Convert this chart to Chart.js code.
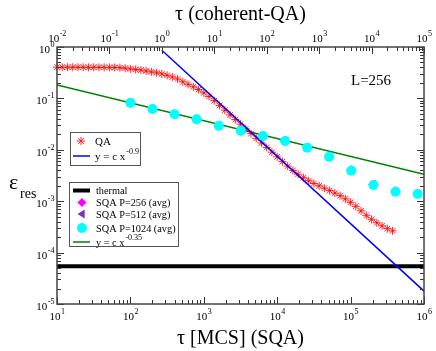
<!DOCTYPE html>
<html><head><meta charset="utf-8">
<script src="https://cdn.jsdelivr.net/npm/chart.js@4/dist/chart.umd.min.js"></script>
<style>html,body{margin:0;padding:0;background:#fff}canvas{display:block}</style>
</head><body>
<canvas id="c" width="436" height="351"></canvas>
<script>
// ---------- data ----------
const qaTau = [
 0.01,0.01259,0.01585,0.01995,0.02512,0.03162,0.03981,0.05012,0.0631,0.07943,
 0.1,0.1259,0.1585,0.1995,0.2512,0.3162,0.3981,0.5012,0.631,0.7943,
 1,1.259,1.585,1.995,2.512,3.162,3.981,5.012,6.31,7.943,
 10,12.59,15.85,19.95,25.12,31.62,39.81,50.12,63.1,79.43,
 100,125.9,158.5,199.5,251.2,316.2,398.1,501.2,631,794.3,
 1000,1259,1585,1995,2512,3162,3981,5012,6310,7943,
 10000,12590,15850,19950,25120];
const qaEps = [
 0.405,0.404,0.404,0.403,0.403,0.403,0.402,0.402,0.402,0.401,
 0.401,0.400,0.396,0.386,0.375,0.365,0.356,0.342,0.328,0.315,
 0.300,0.281,0.261,0.239,0.210,0.188,0.168,0.149,0.128,0.109,
 0.0901,0.0730,0.0591,0.0477,0.0387,0.0315,0.0255,0.0206,0.0167,0.0136,
 0.0111,0.00899,0.00728,0.00587,0.00481,0.00398,0.00336,0.00287,0.00250,0.00221,
 0.00199,0.00179,0.00161,0.00144,0.00128,0.00111,0.000951,0.000795,0.000650,0.000531,
 0.000444,0.000380,0.000332,0.000293,0.000265];

const sqaTau = [100,200,400,800,1600,3200,6400,12800,25600,51200,102400,204800,409600,819200];
const sqaEps1024 = [0.0824,0.0622,0.0491,0.0392,0.0294,0.0235,0.0186,0.0148,0.0110,0.00734,0.00392,0.00207,0.00153,0.00138];
const sqaEps512  = [0.0824,0.0622,0.0491,0.0392,0.0294,0.0235,0.0186,0.0148,0.0110,0.00734,0.00395,0.00212,0.00155,0.00139];
const sqaEps256  = [0.0824,0.0622,0.0491,0.0392,0.0294,0.0235,0.0186,0.0148,0.0111,0.00740,0.00402,0.00210,0.00156,0.00139];

const fit09Tau = [1, 100000];          // vs. coherent-QA tau (top axis)
const fit09Eps = [0.867, 0.0000178];
const fit035Tau = [10, 1000000];       // vs. SQA tau (bottom axis)
const fit035Eps = [0.183, 0.00333];
const thermalTau = [10, 1000000];
const thermalEps = [0.0000542, 0.0000542];

const bottomExps = [1,2,3,4,5,6];
const topExps = [-2,-1,0,1,2,3,4,5];
const leftExps = [-5,-4,-3,-2,-1,0];

// ---------- helpers ----------
const pts = (xs, ys) => xs.map((x, i) => ({x, y: ys[i]}));
const SERIF = '"Liberation Serif","Times New Roman",serif';

function drawPow(ctx, x, y, exp, align) {
  ctx.font = '11px ' + SERIF;
  const w1 = ctx.measureText('10').width;
  ctx.font = '8px ' + SERIF;
  const w2 = ctx.measureText(String(exp)).width;
  const x0 = align === 'center' ? x - (w1 + w2) / 2 : x - (w1 + w2);
  ctx.textAlign = 'left'; ctx.textBaseline = 'alphabetic'; ctx.fillStyle = '#000';
  ctx.font = '11px ' + SERIF; ctx.fillText('10', x0, y);
  ctx.font = '8px ' + SERIF; ctx.fillText(String(exp), x0 + w1 + 0.5, y - 6);
}

function marker(ctx, style, x, y, r, color) {
  ctx.save();
  ctx.strokeStyle = color; ctx.fillStyle = color; ctx.lineWidth = 1;
  ctx.beginPath();
  if (style === 'star') {
    for (let k = 0; k < 4; k++) {
      const a = k * Math.PI / 4;
      ctx.moveTo(x - r * Math.cos(a), y - r * Math.sin(a));
      ctx.lineTo(x + r * Math.cos(a), y + r * Math.sin(a));
    }
    ctx.stroke();
  } else if (style === 'diamond') {
    ctx.moveTo(x, y - r); ctx.lineTo(x + r, y); ctx.lineTo(x, y + r); ctx.lineTo(x - r, y); ctx.closePath(); ctx.fill();
  } else if (style === 'triLeft') {
    ctx.moveTo(x - r, y); ctx.lineTo(x + r * 0.6, y - r); ctx.lineTo(x + r * 0.6, y + r); ctx.closePath(); ctx.fill();
  } else {
    ctx.arc(x, y, r, 0, Math.PI * 2); ctx.fill();
  }
  ctx.restore();
}

function hline(ctx, x1, x2, y, color, w) {
  ctx.save(); ctx.strokeStyle = color; ctx.lineWidth = w;
  ctx.beginPath(); ctx.moveTo(x1, y); ctx.lineTo(x2, y); ctx.stroke(); ctx.restore();
}

function textSup(ctx, x, y, base, sup, size) {
  ctx.fillStyle = '#000'; ctx.textAlign = 'left'; ctx.textBaseline = 'alphabetic';
  ctx.font = size + 'px ' + SERIF; ctx.fillText(base, x, y);
  const w = ctx.measureText(base).width;
  ctx.font = '8px ' + SERIF; ctx.fillText(sup, x + w + 1, y - 6);
}

const decorPlugin = {
  id: 'decor',
  afterDraw(chart) {
    const ctx = chart.ctx, a = chart.chartArea;
    const sx = chart.scales.x, st = chart.scales.xt, sy = chart.scales.y;
    ctx.save();
    // ticks
    ctx.strokeStyle = '#333'; ctx.lineWidth = 1;
    ctx.beginPath();
    const minors = [2,3,4,5,6,7,8,9];
    bottomExps.forEach((e, i) => {
      const v = Math.pow(10, e);
      const px = Math.round(sx.getPixelForValue(v)) + 0.5;
      ctx.moveTo(px, a.bottom); ctx.lineTo(px, a.bottom - 7);
      if (i < bottomExps.length - 1) minors.forEach(m => {
        const p = Math.round(sx.getPixelForValue(m * v)) + 0.5;
        ctx.moveTo(p, a.bottom); ctx.lineTo(p, a.bottom - 4);
      });
    });
    topExps.forEach((e, i) => {
      const v = Math.pow(10, e);
      const px = Math.round(st.getPixelForValue(v)) + 0.5;
      ctx.moveTo(px, a.top); ctx.lineTo(px, a.top + 7);
      if (i < topExps.length - 1) minors.forEach(m => {
        const p = Math.round(st.getPixelForValue(m * v)) + 0.5;
        ctx.moveTo(p, a.top); ctx.lineTo(p, a.top + 4);
      });
    });
    leftExps.forEach((e, i) => {
      const v = Math.pow(10, e);
      const py = Math.round(sy.getPixelForValue(v)) + 0.5;
      ctx.moveTo(a.left, py); ctx.lineTo(a.left + 7, py);
      ctx.moveTo(a.right, py); ctx.lineTo(a.right - 7, py);
      if (i < leftExps.length - 1) minors.forEach(m => {
        const p = Math.round(sy.getPixelForValue(m * v)) + 0.5;
        ctx.moveTo(a.left, p); ctx.lineTo(a.left + 4, p);
        ctx.moveTo(a.right, p); ctx.lineTo(a.right - 4, p);
      });
    });
    ctx.stroke();
    // frame
    ctx.strokeStyle = '#444'; ctx.lineWidth = 1.5;
    ctx.strokeRect(a.left, a.top, a.right - a.left, a.bottom - a.top);

    // tick labels
    bottomExps.forEach(e => drawPow(ctx, sx.getPixelForValue(Math.pow(10, e)), a.bottom + 16, e, 'center'));
    topExps.forEach(e => drawPow(ctx, st.getPixelForValue(Math.pow(10, e)), a.top - 5, e, 'center'));
    leftExps.forEach(e => drawPow(ctx, a.left - 3, sy.getPixelForValue(Math.pow(10, e)) + 6, e, 'right'));

    // axis titles
    ctx.fillStyle = '#000'; ctx.textAlign = 'center'; ctx.textBaseline = 'alphabetic';
    ctx.font = '20px ' + SERIF;
    ctx.fillText('τ (coherent-QA)', (a.left + a.right) / 2, 20);
    ctx.fillText('τ [MCS] (SQA)', (a.left + a.right) / 2, 344);
    ctx.textAlign = 'left';
    ctx.font = '22px ' + SERIF; ctx.fillText('ε', 9, 189);
    ctx.font = '14px ' + SERIF; ctx.fillText('res', 20, 198);

    // L=256
    ctx.font = '15px ' + SERIF; ctx.fillText('L=256', 351, 85);

    // legend 1
    ctx.fillStyle = '#fff'; ctx.strokeStyle = '#555'; ctx.lineWidth = 1;
    ctx.fillRect(70.5, 132.5, 70, 33); ctx.strokeRect(70.5, 132.5, 70, 33);
    marker(ctx, 'star', 81, 141, 4, '#ff2020');
    ctx.fillStyle = '#000'; ctx.font = '11px ' + SERIF; ctx.fillText('QA', 95, 145);
    hline(ctx, 73, 90, 156, '#0000ff', 1.5);
    textSup(ctx, 95, 160, 'y = c x', '-0.9', 11);

    // legend 2
    const LF = '10.3px ' + SERIF;
    ctx.fillStyle = '#fff'; ctx.strokeStyle = '#555'; ctx.lineWidth = 1;
    ctx.fillRect(69.5, 182.5, 109, 64); ctx.strokeRect(69.5, 182.5, 109, 64);
    hline(ctx, 73, 90, 190.5, '#000', 4);
    ctx.fillStyle = '#000'; ctx.font = LF; ctx.fillText('thermal', 96, 194);
    marker(ctx, 'diamond', 82, 202.5, 4.5, '#ff00ff');
    ctx.fillStyle = '#000'; ctx.font = LF; ctx.fillText('SQA P=256 (avg)', 96, 206);
    marker(ctx, 'triLeft', 82, 214, 4.5, '#7f2fc0');
    ctx.fillStyle = '#000'; ctx.font = LF; ctx.fillText('SQA P=512 (avg)', 96, 218);
    marker(ctx, 'circle', 82, 228, 5, '#00ffff');
    ctx.fillStyle = '#000'; ctx.font = LF; ctx.fillText('SQA P=1024 (avg)', 96, 231.5);
    hline(ctx, 73, 90, 242, '#008000', 1.5);
    textSup(ctx, 96, 246, 'y = c x', '-0.35', 10.3);
    ctx.restore();
  }
};

new Chart(document.getElementById('c'), {
  type: 'scatter',
  data: {
    datasets: [
      { label: 'thermal', data: pts(thermalTau, thermalEps), xAxisID: 'x', showLine: true,
        borderColor: '#000', borderWidth: 4, pointRadius: 0, order: 8 },
      { label: 'y = c x^-0.35', data: pts(fit035Tau, fit035Eps), xAxisID: 'x', showLine: true,
        borderColor: '#008000', borderWidth: 1.5, pointRadius: 0, order: 7 },
      { label: 'QA', data: pts(qaTau, qaEps), xAxisID: 'xt', showLine: false,
        pointStyle: 'star', pointRadius: 4, borderColor: 'rgba(255,0,0,0.85)', backgroundColor: 'rgba(255,0,0,0.85)',
        pointBorderWidth: 1, order: 6, clip: false },
      { label: 'y = c x^-0.9', data: pts(fit09Tau, fit09Eps), xAxisID: 'xt', showLine: true,
        borderColor: '#0000ff', borderWidth: 1.5, pointRadius: 0, order: 5 },
      { label: 'SQA P=256 (avg)', data: pts(sqaTau, sqaEps256), xAxisID: 'x', showLine: false,
        pointStyle: 'rectRot', pointRadius: 4.5, backgroundColor: '#ff00ff', borderColor: '#ff00ff', order: 3, clip: false },
      { label: 'SQA P=512 (avg)', data: pts(sqaTau, sqaEps512), xAxisID: 'x', showLine: false,
        pointStyle: 'triangle', rotation: -90, pointRadius: 4.5, backgroundColor: '#7f2fc0', borderColor: '#7f2fc0', order: 2, clip: false },
      { label: 'SQA P=1024 (avg)', data: pts(sqaTau, sqaEps1024), xAxisID: 'x', showLine: false,
        pointStyle: 'circle', pointRadius: 5, backgroundColor: '#00ffff', borderColor: '#00ffff', borderWidth: 0, order: 1, clip: false }
    ]
  },
  options: {
    responsive: false, animation: false, devicePixelRatio: 1,
    layout: { padding: { left: 57, right: 12, top: 47, bottom: 47 } },
    plugins: { legend: { display: false }, tooltip: { enabled: false } },
    scales: {
      x: { type: 'logarithmic', position: 'bottom', min: 10, max: 1000000, display: false },
      xt: { type: 'logarithmic', position: 'top', min: 0.01, max: 100000, display: false },
      y: { type: 'logarithmic', min: 0.00001, max: 1, display: false }
    }
  },
  plugins: [decorPlugin]
});
</script>
</body></html>
